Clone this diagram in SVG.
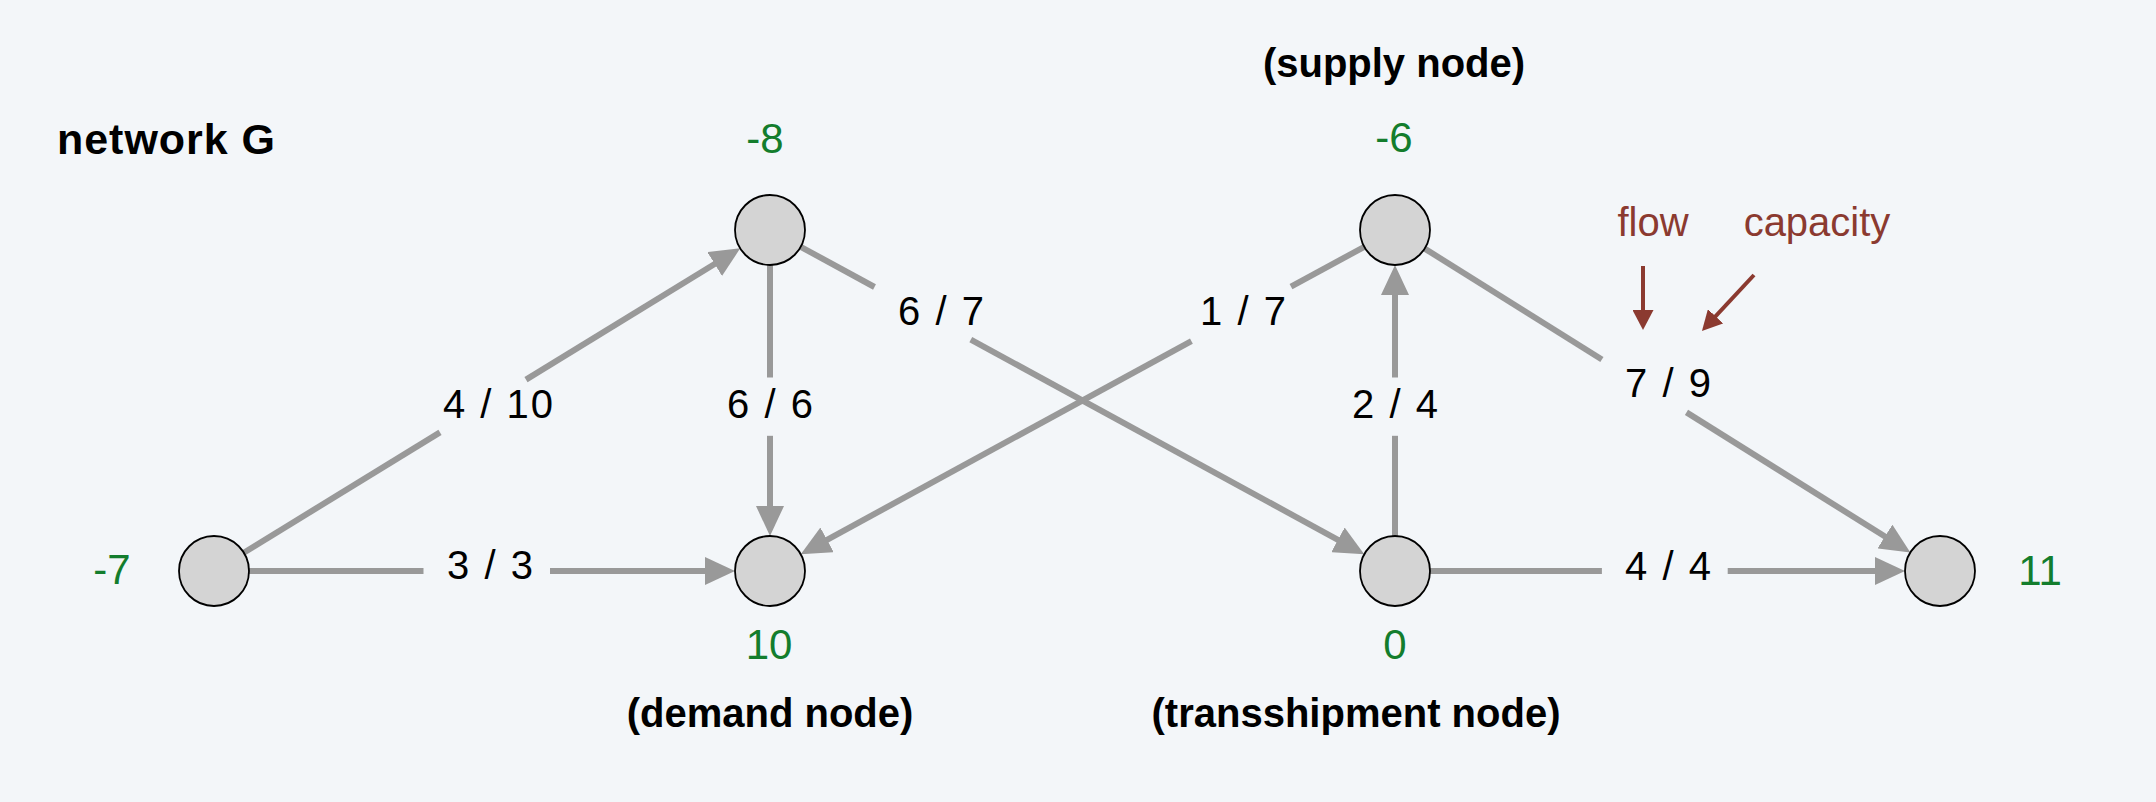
<svg xmlns="http://www.w3.org/2000/svg" width="2156" height="802" viewBox="0 0 2156 802">
  <style>
    .edge { stroke: #999999; stroke-width: 6; fill: none; }
    .hint { stroke: #8b3a30; stroke-width: 4; fill: none; }
    .node { fill: #d4d4d4; stroke: #000000; stroke-width: 1.8; }
    .lbl { font-family: "Liberation Sans", Arial, sans-serif; font-size: 40px; fill: #000000; text-anchor: middle; letter-spacing: 2px; }
    .num { font-family: "Liberation Sans", Arial, sans-serif; font-size: 42px; fill: #137d2d; text-anchor: middle; }
    .bold { font-family: "Liberation Sans", Arial, sans-serif; font-size: 40px; font-weight: bold; fill: #000000; text-anchor: middle; }
    .red { font-family: "Liberation Sans", Arial, sans-serif; font-size: 40px; fill: #8b3a30; text-anchor: middle; }
  </style>
  <defs>
    <marker id="arrow" markerUnits="userSpaceOnUse" markerWidth="30" markerHeight="28" refX="10" refY="14" orient="auto">
      <path d="M0,0 L30,14 L0,28 z" fill="#999999"/>
    </marker>
    <marker id="redarrow" markerUnits="userSpaceOnUse" markerWidth="20" markerHeight="21" refX="6" refY="10.5" orient="auto">
      <path d="M0,0 L20,10.5 L0,21 z" fill="#8b3a30"/>
    </marker>
  </defs>
  <rect x="0" y="0" width="2156" height="802" fill="#f3f6f9"/>

  <text x="57" y="154" font-family="Liberation Sans, Arial, sans-serif" font-size="43" font-weight="bold" fill="#000000" textLength="218" lengthAdjust="spacing">network G</text>

  <g id="connectors">
    <!-- A -> B -->
    <path class="edge" d="M243.8,552.7 L440,432.4"/>
    <path class="edge" d="M526,379.6 L723.2,258.8" marker-end="url(#arrow)"/>
    <!-- A -> C -->
    <path class="edge" d="M249,571 L423.5,571"/>
    <path class="edge" d="M550,571 L715,571" marker-end="url(#arrow)"/>
    <!-- B -> C -->
    <path class="edge" d="M770,265 L770,377.5"/>
    <path class="edge" d="M770,435.8 L770,516" marker-end="url(#arrow)"/>
    <!-- B -> E -->
    <path class="edge" d="M800.7,246.8 L874.5,287"/>
    <path class="edge" d="M970.8,339.6 L1346.7,544.6" marker-end="url(#arrow)"/>
    <!-- D -> C -->
    <path class="edge" d="M1364.3,246.8 L1291,286.7"/>
    <path class="edge" d="M1191.4,341.1 L818.3,544.6" marker-end="url(#arrow)"/>
    <!-- E -> D -->
    <path class="edge" d="M1395,536 L1395,435.8"/>
    <path class="edge" d="M1395,377.5 L1395,285" marker-end="url(#arrow)"/>
    <!-- D -> F -->
    <path class="edge" d="M1424.7,248.6 L1601.9,359.5"/>
    <path class="edge" d="M1686.5,412.4 L1893.4,541.8" marker-end="url(#arrow)"/>
    <!-- E -> F -->
    <path class="edge" d="M1430,571 L1601.9,571"/>
    <path class="edge" d="M1727.7,571 L1885,571" marker-end="url(#arrow)"/>

    <text class="lbl" x="499" y="418">4 / 10</text>
    <text class="lbl" x="491" y="579">3 / 3</text>
    <text class="lbl" x="771" y="418">6 / 6</text>
    <text class="lbl" x="942" y="325">6 / 7</text>
    <text class="lbl" x="1244" y="325">1 / 7</text>
    <text class="lbl" x="1396" y="418">2 / 4</text>
    <text class="lbl" x="1669" y="397">7 / 9</text>
    <text class="lbl" x="1669" y="580">4 / 4</text>
  </g>

  <g id="node-a">
    <circle class="node" cx="214" cy="571" r="35"/>
    <text class="num" x="112" y="584">-7</text>
  </g>
  <g id="node-b">
    <circle class="node" cx="770" cy="230" r="35"/>
    <text class="num" x="765" y="153">-8</text>
  </g>
  <g id="node-c">
    <circle class="node" cx="770" cy="571" r="35"/>
    <text class="num" x="769" y="659">10</text>
    <text class="bold" x="770" y="727">(demand node)</text>
  </g>
  <g id="node-d">
    <circle class="node" cx="1395" cy="230" r="35"/>
    <text class="num" x="1394" y="152">-6</text>
    <text class="bold" x="1394" y="77">(supply node)</text>
  </g>
  <g id="node-e">
    <circle class="node" cx="1395" cy="571" r="35"/>
    <text class="num" x="1395" y="659">0</text>
    <text class="bold" x="1356" y="727">(transshipment node)</text>
  </g>
  <g id="node-f">
    <circle class="node" cx="1940" cy="571" r="35"/>
    <text class="num" x="2040" y="585">11</text>
  </g>

  <g id="legend">
    <text class="red" x="1653" y="236">flow</text>
    <text class="red" x="1817" y="236">capacity</text>
    <path class="hint" d="M1643,266 L1643,316" marker-end="url(#redarrow)"/>
    <path class="hint" d="M1754,275 L1711.5,320.7" marker-end="url(#redarrow)"/>
  </g>
</svg>
